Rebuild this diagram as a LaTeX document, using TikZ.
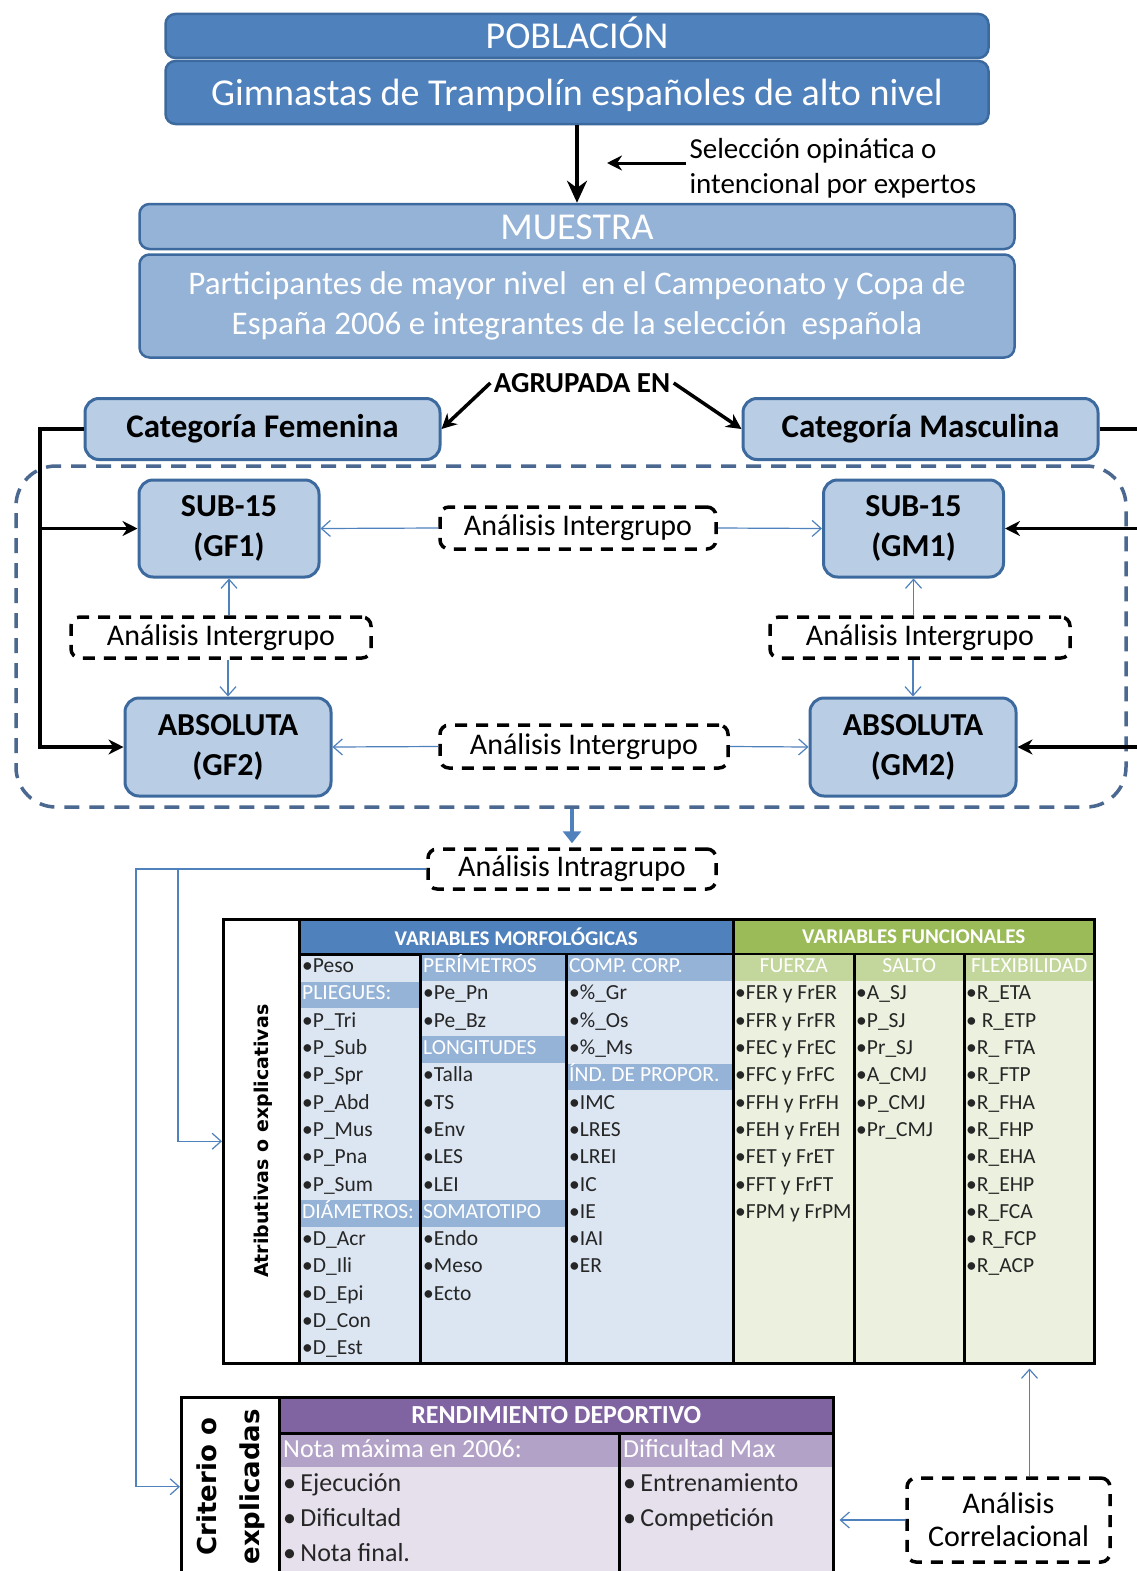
\documentclass[tikz,border=0pt]{standalone}
\usepackage{fontspec}
\setmainfont{Carlito}
\newfontfamily\widesans{DejaVu Sans}
\usetikzlibrary{positioning,arrows.meta}

\definecolor{darkblue}{HTML}{4F81BD}
\definecolor{boxline}{HTML}{3D6A9E}
\definecolor{midblue}{HTML}{95B3D7}
\definecolor{paleblue}{HTML}{B9CDE5}
\definecolor{framegray}{HTML}{4A6890}
\definecolor{morphbody}{HTML}{DCE6F2}
\definecolor{funchead}{HTML}{9BBB59}
\definecolor{funcband}{HTML}{C3D69B}
\definecolor{funcbody}{HTML}{EBF1DE}
\definecolor{rendhead}{HTML}{8064A2}
\definecolor{rendband}{HTML}{B3A2C7}
\definecolor{rendbody}{HTML}{E5E0EC}

\newcommand{\fsize}[2]{\fontsize{#1}{#2}\selectfont}

\tikzset{%
  pop bar/.style={
    rectangle,
    rounded corners=10pt,
    draw=boxline,
    line width=2.5pt,
    fill=darkblue,
    text=white,
    font=\fsize{38}{46}
  },
  one line/.style={
    text height=30pt,
    text depth=5pt
  },
  sample bar/.style={
    pop bar,
    fill=midblue
  },
  group box/.style={
    rectangle,
    rounded corners=14pt,
    draw=boxline,
    line width=3pt,
    fill=paleblue,
    align=center,
    font=\bfseries\fsize{32}{40}
  },
  analysis box/.style={
    rectangle,
    rounded corners=9pt,
    draw=black,
    line width=3.5pt,
    dash pattern=on 12pt off 9pt,
    fill=white,
    align=center,
    font=\fsize{30}{33}
  },
  black link/.style={
    line width=3.5pt
  },
  blue link/.style={
    draw=darkblue,
    line width=1.2pt,
    -{Straight Barb[length=9pt,width=16pt]}
  },
  table cell/.style={
    rectangle,
    draw=black,
    line width=2.5pt,
    inner sep=0pt
  },
  cell text/.style={
    anchor=west,
    inner xsep=2pt,
    inner ysep=0pt,
    text height=14pt,
    text depth=4pt,
    text=black!85,
    font=\fsize{21.5}{25}
  },
  cell item/.style={
    cell text,
    execute at begin node=\textbullet
  },
  cell head/.style={
    cell text,
    text=white
  },
  rend text/.style={
    anchor=west,
    inner xsep=2pt,
    inner ysep=0pt,
    text height=18pt,
    text depth=6pt,
    text=black!85,
    font=\fsize{26}{30}
  },
  rend item/.style={
    rend text,
    execute at begin node=\textbullet\,
  },
}

\def\rowh{27.3}

\begin{document}
\begin{tikzpicture}[x=1pt, y=-1pt, >={Stealth[length=15pt,width=15pt]}]
    \path[use as bounding box, fill=white] (0,0) rectangle (1136,1571);

    %%%%%%%%%%%%%%%%%%%%%%%%%%%%%%%%%%%%%%%%%%%%
    % Population and sample
    %%%%%%%%%%%%%%%%%%%%%%%%%%%%%%%%%%%%%%%%%%%%
    \node[pop bar, one line, minimum width=823pt, minimum height=44pt] (pob-title) at (577,36) {POBLACIÓN};
    \node[pop bar, one line, minimum width=823pt, minimum height=63pt] (pob-body) at (577,92.5) {Gimnastas de Trampolín españoles de alto nivel};

    \node[sample bar, one line, minimum width=875pt, minimum height=45pt] (mue-title) at (577,226.5) {MUESTRA};
    \node[sample bar, minimum width=875pt, minimum height=103pt, align=center, font=\fsize{33}{40}] (mue-body) at (577,306)
        {Participantes de mayor nivel\ \ en el Campeonato y Copa de\\España 2006 e integrantes de la selección\ \ española};

    \draw[black link, -{Stealth[length=22pt,width=20pt]}] (pob-body.south) -- (mue-title.north);

    \node[anchor=west, align=left, font=\fsize{29}{35}] (sel) at (686,168) {Selección opinática o\\intencional por expertos};
    \coordinate (sel-tip) at (607,163);
    \draw[black link, line width=3pt, ->] (sel.west |- sel-tip) -- (sel-tip);

    %%%%%%%%%%%%%%%%%%%%%%%%%%%%%%%%%%%%%%%%%%%%
    % Categories
    %%%%%%%%%%%%%%%%%%%%%%%%%%%%%%%%%%%%%%%%%%%%
    \node[font=\bfseries\fsize{29}{35}] (agr) at (582,383) {AGRUPADA EN};
    \node[group box, minimum width=355pt, minimum height=61pt, font=\bfseries\fsize{33}{40}] (fem) at (262.5,429) {Categoría Femenina};
    \node[group box, minimum width=355pt, minimum height=61pt, font=\bfseries\fsize{33}{40}] (mas) at (920.5,429) {Categoría Masculina};

    \draw[black link, ->] (agr.west) -- (fem.east);
    \draw[black link, ->] (agr.east) -- (mas.west);

    %%%%%%%%%%%%%%%%%%%%%%%%%%%%%%%%%%%%%%%%%%%%
    % Groups
    %%%%%%%%%%%%%%%%%%%%%%%%%%%%%%%%%%%%%%%%%%%%
    \node[draw=framegray, line width=3.5pt, dash pattern=on 15pt off 10pt, rounded corners=40pt,
          minimum width=1110pt, minimum height=341pt] (frame) at (571,636.5) {};

    \node[group box, minimum width=180pt, minimum height=97pt] (gf1) at (229,528.5) {SUB-15\\(GF1)};
    \node[group box, minimum width=180pt, minimum height=97pt] (gm1) at (913.5,528.5) {SUB-15\\(GM1)};
    \node[group box, minimum width=206pt, minimum height=98pt] (gf2) at (228,747) {ABSOLUTA\\(GF2)};
    \node[group box, minimum width=206pt, minimum height=98pt] (gm2) at (913,747) {ABSOLUTA\\(GM2)};

    % Categories to their groups
    \coordinate (fem-bus) at (40,0);
    \coordinate (mas-bus) at (1150,0);
    \draw[black link, ->] (fem.west) -| (fem-bus |- gf2.west) -- (gf2.west);
    \draw[black link, ->] (fem-bus |- gf1.west) -- (gf1.west);
    \draw[black link, ->] (mas.east) -| (mas-bus |- gm2.east) -- (gm2.east);
    \draw[black link, ->] (mas-bus |- gm1.east) -- (gm1.east);

    % Between group analyses
    \node[analysis box, minimum width=276pt, minimum height=42pt] (ig-top) at (578,528) {Análisis Intergrupo};
    \node[analysis box, minimum width=300pt, minimum height=41pt] (ig-fem) at (221,637.5) {Análisis Intergrupo};
    \node[analysis box, minimum width=300pt, minimum height=41pt] (ig-mas) at (920,637.5) {Análisis Intergrupo};
    \node[analysis box, minimum width=288pt, minimum height=43pt] (ig-bot) at (584,746.5) {Análisis Intergrupo};

    \draw[blue link] (ig-top.west) -- (gf1.east);
    \draw[blue link] (ig-top.east) -- (gm1.west);
    \draw[blue link] (ig-fem.north -| gf1.south) -- (gf1.south);
    \draw[blue link] (ig-fem.south -| gf2.north) -- (gf2.north);
    \draw[blue link] (ig-mas.north -| gm1.south) -- (gm1.south);
    \draw[blue link] (ig-mas.south -| gm2.north) -- (gm2.north);
    \draw[blue link] (ig-bot.west) -- (gf2.east);
    \draw[blue link] (ig-bot.east) -- (gm2.west);

    % Within group analysis
    \node[analysis box, minimum width=288pt, minimum height=40pt] (intra) at (572,869) {Análisis Intragrupo};
    \draw[draw=darkblue, line width=4pt, shorten >=4pt, -{Triangle[length=12pt,width=18pt]}]
        (frame.south -| intra.north) -- (intra.north);

    %%%%%%%%%%%%%%%%%%%%%%%%%%%%%%%%%%%%%%%%%%%%
    % Attributive variables
    %%%%%%%%%%%%%%%%%%%%%%%%%%%%%%%%%%%%%%%%%%%%
    \node[table cell, fill=white, minimum width=76pt, minimum height=444pt, anchor=north west] (atr) at (222,918) {};
    \node[rotate=90, font=\widesans\bfseries\fsize{19}{22}] at ([xshift=2pt]atr.center) {Atributivas o explicativas};

    \node[table cell, fill=darkblue, text=white, font=\bfseries\fsize{21}{25}, minimum width=434pt, minimum height=35pt,
          anchor=north west] (mo-head) at (298,918) {VARIABLES MORFOLÓGICAS};
    \node[table cell, fill=funchead, text=white, font=\bfseries\fsize{21}{25}, minimum width=361pt, minimum height=35pt,
          anchor=north west] (fn-head) at (732,918) {VARIABLES FUNCIONALES};

    % Columns
    \foreach \x/\w [count=\i] in {298/121, 419/146, 565/167}
        \node[table cell, fill=morphbody, minimum width=\w pt, minimum height=409pt, anchor=north west] (mo-c\i) at (\x,953) {};
    \foreach \x/\w [count=\i] in {732/121, 853/110, 963/130}
        \node[table cell, fill=funcbody, minimum width=\w pt, minimum height=409pt, anchor=north west] (fn-c\i) at (\x,953) {};

    % Sub-heading bands
    \foreach \i/\row in {1/2, 1/10, 2/1, 2/4, 2/10, 3/1, 3/5}
        \fill[midblue] ([shift={(3,{(\row-1)*\rowh+1.5})}]mo-c\i.north west) rectangle ([shift={(-3,{\row*\rowh+0.5})}]mo-c\i.north east);
    \foreach \i in {1,2,3}
        \fill[funcband] ([shift={(3,1.5)}]fn-c\i.north west) rectangle ([shift={(-3,{\rowh+0.5})}]fn-c\i.north east);

    % Morphological variables
    \foreach \kind/\txt [count=\row] in {item/Peso, head/PLIEGUES:, item/P\_Tri, item/P\_Sub, item/P\_Spr, item/P\_Abd,
            item/P\_Mus, item/P\_Pna, item/P\_Sum, head/DIÁMETROS:, item/D\_Acr, item/D\_Ili, item/D\_Epi, item/D\_Con, item/D\_Est}
        \node[cell \kind] at ([shift={(2,{(\row-0.5)*\rowh+1})}]mo-c1.north west) {\txt};
    \foreach \kind/\txt [count=\row] in {head/PERÍMETROS, item/Pe\_Pn, item/Pe\_Bz, head/LONGITUDES, item/Talla, item/TS,
            item/Env, item/LES, item/LEI, head/SOMATOTIPO, item/Endo, item/Meso, item/Ecto}
        \node[cell \kind] at ([shift={(2,{(\row-0.5)*\rowh+1})}]mo-c2.north west) {\txt};
    \foreach \kind/\txt [count=\row] in {head/COMP. CORP., item/\%\_Gr, item/\%\_Os, item/\%\_Ms, head/ÍND. DE PROPOR.,
            item/IMC, item/LRES, item/LREI, item/IC, item/IE, item/IAI, item/ER}
        \node[cell \kind] at ([shift={(2,{(\row-0.5)*\rowh+1})}]mo-c3.north west) {\txt};

    % Functional variables
    \foreach \txt [count=\i] in {FUERZA, SALTO, FLEXIBILIDAD}
        \node[cell head, anchor=center] at ([shift={(0,{0.5*\rowh+1})}]fn-c\i.north) {\txt};
    \foreach \txt [count=\row from 2] in {FER y FrER, FFR y FrFR, FEC y FrEC, FFC y FrFC, FFH y FrFH, FEH y FrEH,
            FET y FrET, FFT y FrFT, FPM y FrPM}
        \node[cell item] at ([shift={(1,{(\row-0.5)*\rowh+1})}]fn-c1.north west) {\txt};
    \foreach \txt [count=\row from 2] in {A\_SJ, P\_SJ, Pr\_SJ, A\_CMJ, P\_CMJ, Pr\_CMJ}
        \node[cell item] at ([shift={(1,{(\row-0.5)*\rowh+1})}]fn-c2.north west) {\txt};
    \foreach \txt [count=\row from 2] in {R\_ETA, \ R\_ETP, R\_ FTA, R\_FTP, R\_FHA, R\_FHP, R\_EHA, R\_EHP, R\_FCA,
            \ R\_FCP, R\_ACP}
        \node[cell item] at ([shift={(1,{(\row-0.5)*\rowh+1})}]fn-c3.north west) {\txt};

    %%%%%%%%%%%%%%%%%%%%%%%%%%%%%%%%%%%%%%%%%%%%
    % Criterion variables
    %%%%%%%%%%%%%%%%%%%%%%%%%%%%%%%%%%%%%%%%%%%%
    \node[table cell, fill=white, minimum width=98pt, minimum height=179pt, anchor=north west] (crit) at (180,1396) {};
    \node[rotate=90, align=center, font=\widesans\bfseries\fsize{26}{43}] at ([xshift=1pt]crit.center) {Criterio o\\explicadas};

    \node[table cell, fill=rendhead, text=white, font=\bfseries\fsize{26}{30}, minimum width=554pt, minimum height=36pt,
          anchor=north west] (rd-head) at (278,1396) {RENDIMIENTO DEPORTIVO};
    \foreach \x/\w [count=\i] in {278/340, 618/214}
        \node[table cell, fill=rendbody, minimum width=\w pt, minimum height=143pt, anchor=north west] (rd-c\i) at (\x,1432) {};
    \foreach \i in {1,2}
        \fill[rendband] ([shift={(3,2.5)}]rd-c\i.north west) rectangle ([shift={(-3,35)}]rd-c\i.north east);

    \node[rend text, text=white] at ([shift={(3,19)}]rd-c1.north west) {Nota máxima en 2006:};
    \node[rend text, text=white] at ([shift={(3,19)}]rd-c2.north west) {Dificultad Max};
    \foreach \txt [count=\row] in {Ejecución, Dificultad, Nota final.}
        \node[rend item] at ([shift={(3,{19+\row*34.7})}]rd-c1.north west) {\txt};
    \foreach \txt [count=\row] in {Entrenamiento, Competición}
        \node[rend item] at ([shift={(3,{19+\row*34.7})}]rd-c2.north west) {\txt};

    %%%%%%%%%%%%%%%%%%%%%%%%%%%%%%%%%%%%%%%%%%%%
    % Connecting the analyses
    %%%%%%%%%%%%%%%%%%%%%%%%%%%%%%%%%%%%%%%%%%%%
    \coordinate (crit-bus) at (136,0);
    \coordinate (atr-bus) at (178,0);
    \draw[blue link] (intra.west) -| (crit-bus |- crit.west) -- (crit.west);
    \draw[blue link] (atr-bus |- intra.west) -- (atr-bus |- atr.west) -- (atr.west);

    \node[analysis box, minimum width=203pt, minimum height=84pt] (corr) at (1008.5,1520) {Análisis\\Correlacional};
    \draw[blue link, shorten >=5pt] (corr.west) -- (corr.west -| rd-c2.east);
    \draw[blue link, shorten >=4pt] ([xshift=21pt]corr.north) -- ([xshift=21pt]corr.north |- fn-c3.south);
\end{tikzpicture}
\end{document}
